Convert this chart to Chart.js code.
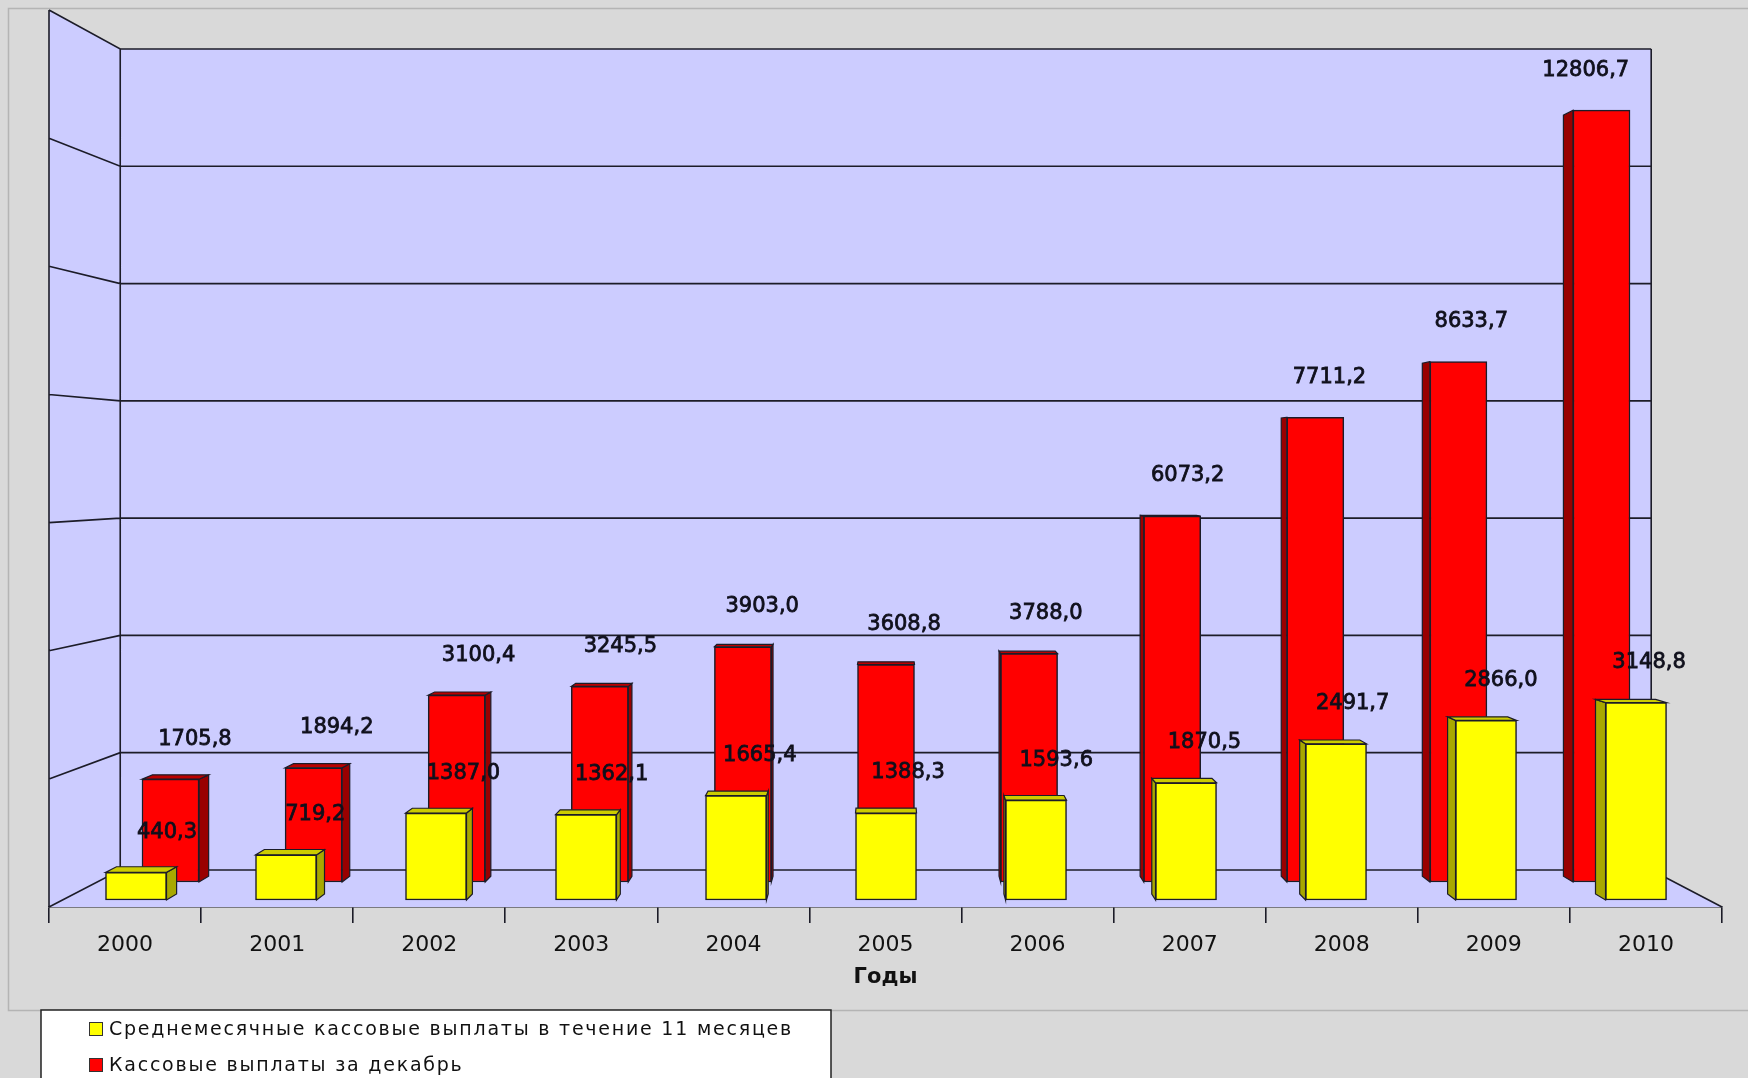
<!DOCTYPE html>
<html>
<head>
<meta charset="utf-8">
<script src="https://cdn.jsdelivr.net/npm/chart.js@4/dist/chart.umd.min.js"></script>
<style>
  html, body { margin: 0; padding: 0; background: #d9d9d9; }
  canvas { display: block; }
</style>
</head>
<body>
<canvas id="paymentsChart" width="1748" height="1078"></canvas>
<script>
const years = ['2000', '2001', '2002', '2003', '2004', '2005', '2006', '2007', '2008', '2009', '2010'];
const avgPayments = [440.3, 719.2, 1387.0, 1362.1, 1665.4, 1388.3, 1593.6, 1870.5, 2491.7, 2866.0, 3148.8];
const decemberPayments = [1705.8, 1894.2, 3100.4, 3245.5, 3903.0, 3608.8, 3788.0, 6073.2, 7711.2, 8633.7, 12806.7];
const gridValues = [0, 2000, 4000, 6000, 8000, 10000, 12000, 14000];
const seriesNames = ['Среднемесячные кассовые выплаты в течение 11 месяцев', 'Кассовые выплаты за декабрь'];

const fontFamily = '"DejaVu Sans", Verdana, sans-serif';
const lineColor = '#1c1c28';
// vanishing point of the fake 3d view and depth of the whole floor
const vanish = { x: 888, y: 470 };
const floorDepth = 0.0849;

function formatValue(v) {
    return v.toFixed(1).replace('.', ',');
}

function toPoints(values) {
    return values.map((v, i) => ({ x: i, y: v }));
}

function towards(px, py, k) {
    return [px + (vanish.x - px) * k, py + (vanish.y - py) * k];
}

function fillPoly(ctx, pts, fill, stroke) {
    ctx.beginPath();
    ctx.moveTo(pts[0][0], pts[0][1]);
    for (let i = 1; i < pts.length; i++) ctx.lineTo(pts[i][0], pts[i][1]);
    ctx.closePath();
    if (fill) { ctx.fillStyle = fill; ctx.fill(); }
    if (stroke) { ctx.strokeStyle = stroke; ctx.lineWidth = 1.2; ctx.stroke(); }
}

// walls, floor and grid lines
const wallsPlugin = {
    id: 'walls',
    beforeDraw(chart) {
        const ctx = chart.ctx;
        ctx.save();
        ctx.fillStyle = '#d9d9d9';
        ctx.fillRect(0, 0, chart.width, chart.height);
        ctx.strokeStyle = '#b4b4b4';
        ctx.lineWidth = 1.5;
        ctx.strokeRect(8.5, 8.5, chart.width + 20, 1002);
        ctx.restore();
    },
    beforeDatasetsDraw(chart) {
        const ctx = chart.ctx;
        const { left, right, bottom } = chart.chartArea;
        const yWall = chart.scales.yWall;
        const backTop = yWall.getPixelForValue(gridValues[gridValues.length - 1]);
        const backBottom = yWall.getPixelForValue(0);
        const bl = left + (vanish.x - left) * floorDepth;
        const br = right + (vanish.x - right) * floorDepth;
        const frontY = y => vanish.y + (y - vanish.y) / (1 - floorDepth);
        const wall = '#ccccff';
        ctx.save();
        fillPoly(ctx, [[bl, backTop], [br, backTop], [br, backBottom], [bl, backBottom]], wall);
        fillPoly(ctx, [[left, frontY(backTop)], [bl, backTop], [bl, backBottom], [left, frontY(backBottom)]], wall);
        fillPoly(ctx, [[bl, backBottom], [br, backBottom], [right, bottom], [left, bottom]], wall);

        ctx.strokeStyle = lineColor;
        ctx.lineWidth = 1.6;
        ctx.beginPath();
        gridValues.forEach(v => {
            const y = yWall.getPixelForValue(v);
            ctx.moveTo(left, frontY(y));
            ctx.lineTo(bl, y);
            ctx.lineTo(br, y);
        });
        ctx.moveTo(left, frontY(backTop));
        ctx.lineTo(left, bottom);
        ctx.moveTo(bl, backTop);
        ctx.lineTo(bl, backBottom);
        ctx.moveTo(br, backTop);
        ctx.lineTo(br, backBottom);
        ctx.lineTo(right, bottom);
        ctx.stroke();
        ctx.restore();
    },
    // sides and tops of each box, drawn behind the front face
    beforeDatasetDraw(chart, args) {
        const ctx = chart.ctx;
        const ds = chart.data.datasets[args.index];
        const k = ds.depth;
        ctx.save();
        args.meta.data.forEach(el => {
            const { x, y, base, width } = el.getProps(['x', 'y', 'base', 'width'], true);
            const l = x - width / 2, r = x + width / 2;
            const [l2, t2] = towards(l, y, k);
            const [r2, b2] = towards(r, base, k);
            const [r3, t3] = towards(r, y, k);
            const [l4, b4] = towards(l, base, k);
            if (r < vanish.x - 4) {
                fillPoly(ctx, [[r, y], [r3, t3], [r2, b2], [r, base]], ds.sideColor, lineColor);
            } else if (l > vanish.x + 4) {
                fillPoly(ctx, [[l, y], [l2, t2], [l4, b4], [l, base]], ds.sideColor, lineColor);
            }
            if (y > vanish.y) {
                fillPoly(ctx, [[l, y], [r, y], [r3, t3], [l2, t2]], ds.topColor, lineColor);
            }
        });
        ctx.restore();
    },
    afterDatasetsDraw(chart) {
        const ctx = chart.ctx;
        const { right } = chart.chartArea;
        const br = right + (vanish.x - right) * floorDepth;
        ctx.save();
        ctx.font = '21px ' + fontFamily;
        ctx.fillStyle = '#10101c';
        ctx.strokeStyle = '#10101c';
        ctx.lineWidth = 0.8;
        ctx.textAlign = 'center';
        ctx.textBaseline = 'middle';
        [1, 0].forEach(di => {
            const ds = chart.data.datasets[di];
            const meta = chart.getDatasetMeta(di);
            meta.data.forEach((el, i) => {
                const text = formatValue(ds.data[i].y);
                let x = el.x + ds.labelShift - ds.labelSlope * (el.x - vanish.x);
                const w = ctx.measureText(text).width;
                if (di === 1 && x + w / 2 > br - 22) x = br - 22 - w / 2;
                ctx.fillText(text, x, el.y - 40);
                ctx.strokeText(text, x, el.y - 40);
            });
        });
        ctx.restore();
    },
    // boxed legend at the bottom left
    afterDraw(chart) {
        const ctx = chart.ctx;
        ctx.save();
        ctx.fillStyle = '#ffffff';
        ctx.fillRect(41, 1010, 790, 80);
        ctx.strokeStyle = '#222';
        ctx.lineWidth = 1.5;
        ctx.strokeRect(41, 1010, 790, 80);
        ctx.font = '19px ' + fontFamily;
        ctx.textBaseline = 'middle';
        ctx.textAlign = 'left';
        const natural = ctx.measureText(seriesNames[0]).width;
        const spacing = (684 - natural) / seriesNames[0].length;
        if ('letterSpacing' in ctx) ctx.letterSpacing = spacing.toFixed(2) + 'px';
        chart.data.datasets.forEach((ds, i) => {
            const cy = 1029 + i * 36;
            ctx.fillStyle = ds.backgroundColor;
            ctx.fillRect(89, cy - 7, 14, 14);
            ctx.strokeStyle = '#333';
            ctx.lineWidth = 1;
            ctx.strokeRect(89.5, cy - 6.5, 13, 13);
            ctx.fillStyle = '#111';
            ctx.fillText(ds.label, 109, cy + 1);
        });
        ctx.restore();
    }
};

const ctx = document.getElementById('paymentsChart').getContext('2d');
const chartObject = new Chart(ctx, {
    type: 'bar',
    data: {
        labels: years,
        datasets: [
            {
                label: seriesNames[0],
                data: toPoints(avgPayments),
                xAxisID: 'xFront',
                yAxisID: 'yFront',
                backgroundColor: '#ffff00',
                borderColor: lineColor,
                borderWidth: 1.5,
                borderSkipped: false,
                barThickness: 61,
                sideColor: '#a8a800',
                topColor: '#cccc00',
                depth: 0.014,
                labelShift: 22,
                labelSlope: 0.012
            },
            {
                label: seriesNames[1],
                data: toPoints(decemberPayments),
                xAxisID: 'xBack',
                yAxisID: 'yBack',
                backgroundColor: '#ff0000',
                borderColor: lineColor,
                borderWidth: 1.5,
                borderSkipped: false,
                barThickness: 57,
                sideColor: '#990000',
                topColor: '#bb0000',
                depth: 0.014,
                labelShift: 18,
                labelSlope: 0.009
            }
        ]
    },
    options: {
        responsive: false,
        animation: false,
        devicePixelRatio: 1,
        grouped: false,
        layout: { padding: { left: 49, right: 26, top: 10, bottom: 89.6 } },
        plugins: {
            legend: { display: false },
            tooltip: { enabled: false }
        },
        scales: {
            x: {
                type: 'category',
                position: 'bottom',
                offset: true,
                grid: { offset: true, drawOnChartArea: false, tickLength: 16, color: lineColor, lineWidth: 1.6 },
                border: { display: true, color: lineColor, width: 1.6 },
                ticks: { color: '#111', padding: 9, font: { family: fontFamily, size: 22 } },
                title: {
                    display: true,
                    text: 'Годы',
                    color: '#111',
                    padding: 0,
                    font: { family: fontFamily, size: 21, weight: 'bold', lineHeight: 1 }
                }
            },
            xFront: { type: 'linear', display: false, offset: false, min: -0.58, max: 10.573 },
            xBack: { type: 'linear', display: false, offset: false, min: -0.849, max: 10.842 },
            yFront: { type: 'linear', display: false, min: -112, max: 14201 },
            yBack: { type: 'linear', display: false, min: -415, max: 14469 },
            yWall: { type: 'linear', display: false, min: -632, max: 14666 }
        }
    },
    plugins: [wallsPlugin]
});
</script>
</body>
</html>
